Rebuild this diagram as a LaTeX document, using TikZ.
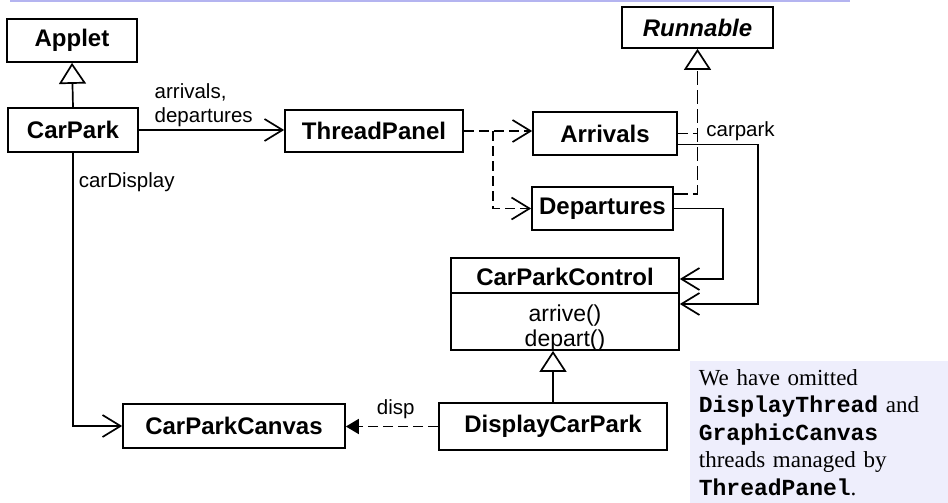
\documentclass[tikz,border=0pt]{standalone}
\usepackage{fontspec}
\setmainfont{Liberation Serif}
\setsansfont{Liberation Sans}
\setmonofont{Liberation Mono}
\usetikzlibrary{arrows.meta,calc}
\definecolor{notefill}{RGB}{238,238,252}
\definecolor{rulecol}{RGB}{180,180,240}

\begin{document}
\begin{tikzpicture}[x=1pt, y=-1pt, line width=1.7pt,
    cls/.style={draw, fill=white, inner sep=0pt,
      font=\sffamily\bfseries\fontsize{24}{28}\selectfont},
    lbl/.style={inner sep=0pt, font=\sffamily\fontsize{20.5}{24}\selectfont},
    assoc/.style={-{Straight Barb[length=18pt,width=22pt]}},
    dep/.style={assoc, dash pattern=on 10pt off 5pt},
    realize/.style={-{Triangle[open,length=21pt,width=27pt]}, dash pattern=on 14pt off 5pt},
    inherit/.style={-{Triangle[open,length=21pt,width=27pt]}},
    navig/.style={-{Triangle[length=13pt,width=15pt]}, dash pattern=on 10pt off 5pt}]
    \useasboundingbox (0,0) rectangle (948,503);
    \draw[rulecol, line width=2pt] (10,1) -- (850,1);

    % classes
    \node[cls, minimum width=130pt, minimum height=43pt] (applet) at (72,40.5) {Applet};
    \node[cls, minimum width=130pt, minimum height=44pt] (carpark) at (73,130) {CarPark};
    \node[cls, minimum width=151pt, minimum height=41pt] (runnable) at (697.5,27.5) {\itshape Runnable};
    \node[cls, minimum width=178pt, minimum height=42pt] (threadpanel) at (374,131) {ThreadPanel};
    \node[cls, minimum width=144pt, minimum height=43pt] (arrivals) at (605,133.5) {Arrivals};
    \node[cls, minimum width=141pt, minimum height=43pt] (departures) at (602.5,208.5) {Departures};
    \node[cls, minimum width=222pt, minimum height=44pt] (carparkcanvas) at (234,426) {CarParkCanvas};
    \node[cls, minimum width=228pt, minimum height=47pt] (displaycarpark) at (553,426.5) {DisplayCarPark};

    \node[cls, minimum width=228pt, minimum height=92pt] (control) at (565,304) {};
    \node[cls, draw=none, fill=none] (controlname) at (565,277) {CarParkControl};
    \node[lbl, font=\sffamily\fontsize{23}{25}\selectfont, align=center] (controlops) at (565,328) {arrive()\\depart()};
    \draw (control.west |- 0,293) -- (control.east |- 0,293);

    % connectors
    \draw[inherit] (carpark.north) -- (applet.south);
    \draw[assoc] (carpark.east) -- (carpark.east -| threadpanel.west);
    \node[lbl, anchor=west, align=left] (arrlbl) at ($(carpark.east)+(15,-25)$) {arrivals,\\departures};

    \draw[dep] (threadpanel.east) -- (threadpanel.east -| arrivals.west);
    \coordinate (split) at ($(threadpanel.east)+(29,0)$);
    \draw[dep] (split) |- (departures.west);

    \draw[realize] ($(departures.north east)+(0,8)$) -| (runnable.south);
    \draw[dash pattern=on 10pt off 5pt] (arrivals.east) -- (arrivals.east -| runnable.south);
    \node[lbl, anchor=west] (carparklbl) at ($(arrivals.east -| runnable.south)+(8,-2)$) {carpark};

    \draw[assoc] ($(arrivals.east)+(0,11)$) -- ++(80,0) |- (control.east);
    \draw[assoc] (departures.east) -- ++(49,0) |- ($(control.east)+(0,-25)$);

    \draw[inherit] (displaycarpark.north) -- (displaycarpark.north |- control.south);
    \draw[navig] (displaycarpark.west) -- (displaycarpark.west -| carparkcanvas.east)
      node[lbl, pos=0.46, above=7pt] (displbl) {disp};

    \draw[assoc] (carpark.south) |- (carparkcanvas.west);
    \node[lbl, anchor=west] (cardisplbl) at ($(carpark.south)+(5,29)$) {carDisplay};

    % note
    \node[fill=notefill, anchor=north west, minimum width=259pt, minimum height=143pt,
      text width=241pt, inner xsep=9pt, inner ysep=6pt, align=left,
      font=\rmfamily\fontsize{23}{27.5}\selectfont] (note) at (689,360)
      {We have omitted\\ \texttt{\bfseries DisplayThread} and\\ \texttt{\bfseries GraphicCanvas}\\ threads managed by\\ \texttt{\bfseries ThreadPanel}.};
\end{tikzpicture}
\end{document}
